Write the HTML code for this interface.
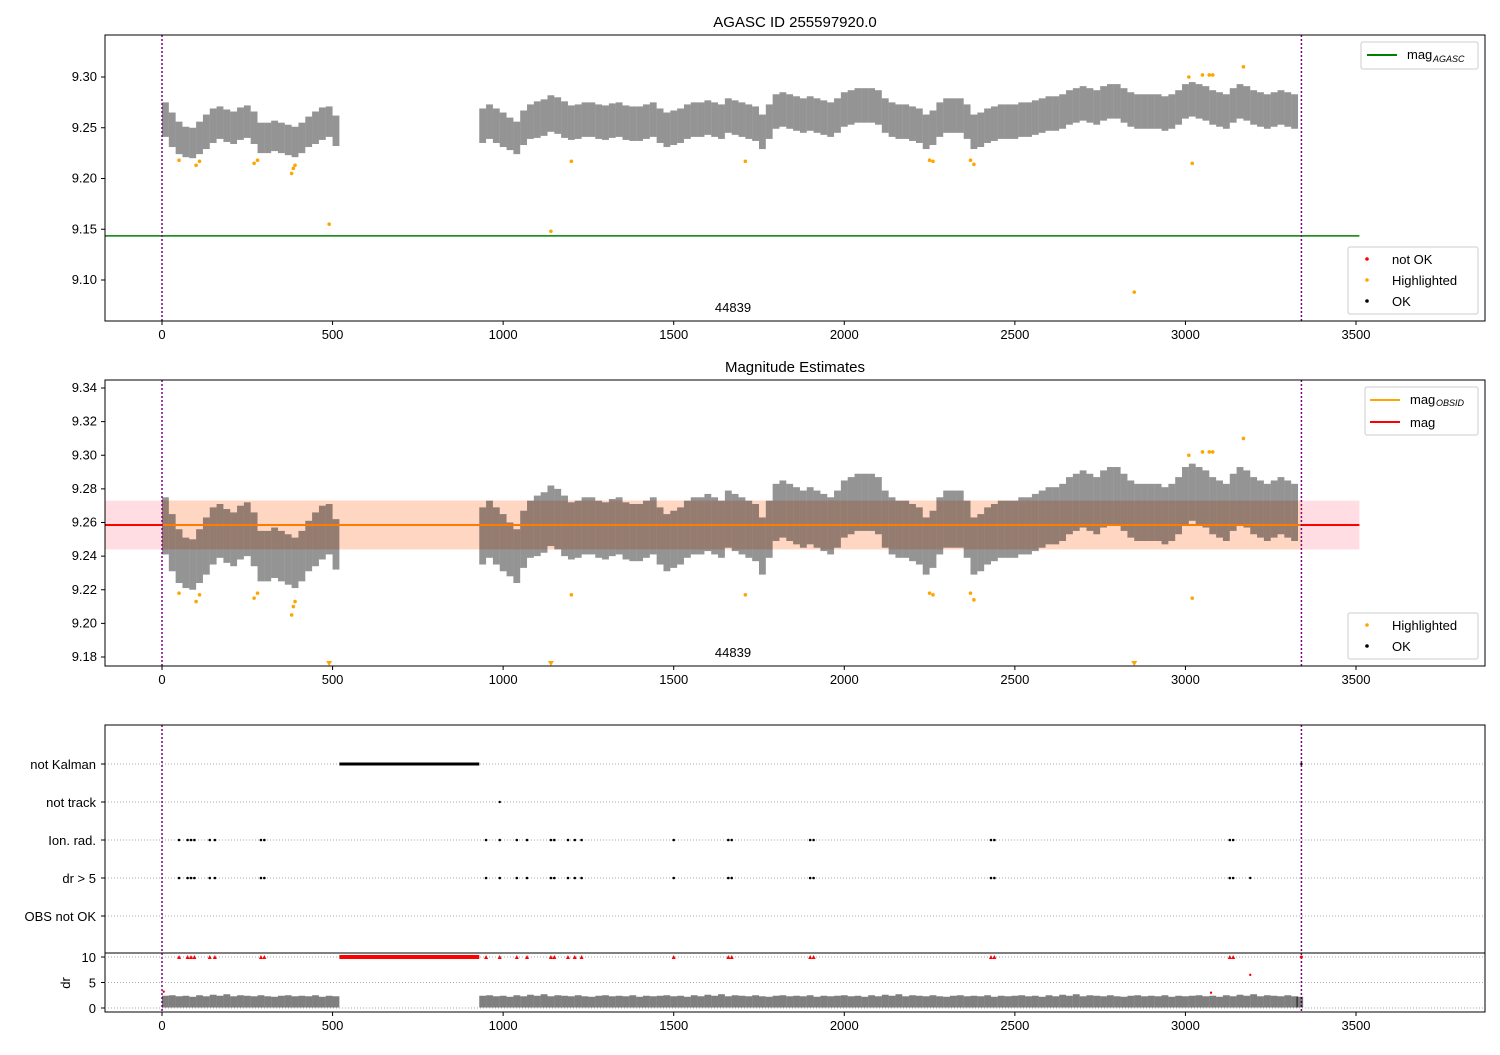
<!DOCTYPE html>
<html><head><meta charset="utf-8"><style>
body{margin:0;background:#fff}
svg{font-family:"Liberation Sans","DejaVu Sans",sans-serif}
</style></head><body>
<svg id="s" width="1500" height="1050" xmlns="http://www.w3.org/2000/svg"></svg>
<script>
// ---- data ----
const binX=[10,30,50,70,90,110,130,150,170,190,210,230,250,270,290,310,330,350,370,390,410,430,450,470,490,510,
 940,960,980,1000,1020,1040,1060,1080,1100,1120,1140,1160,1180,1200,1220,1240,1260,1280,1300,1320,1340,1360,1380,1400,1420,1440,1460,1480,1500,1520,1540,1560,1580,1600,1620,1640,1660,1680,1700,1720,1740,1760,1780,1800,1820,1840,1860,1880,1900,1920,1940,1960,1980,2000,2020,2040,2060,2080,2100,2120,2140,2160,2180,2200,2220,2240,2260,2280,2300,2320,2340,2360,2380,2400,2420,2440,2460,2480,2500,2520,2540,2560,2580,2600,2620,2640,2660,2680,2700,2720,2740,2760,2780,2800,2820,2840,2860,2880,2900,2920,2940,2960,2980,3000,3020,3040,3060,3080,3100,3120,3140,3160,3180,3200,3220,3240,3260,3280,3300,3320,3335];
const binMag=[9.258,9.248,9.240,9.236,9.235,9.240,9.246,9.252,9.255,9.252,9.250,9.254,9.256,9.250,9.240,9.240,9.242,9.240,9.238,9.236,9.240,9.246,9.250,9.254,9.256,9.247,
 9.252,9.256,9.252,9.248,9.244,9.240,9.250,9.256,9.258,9.260,9.264,9.262,9.258,9.255,9.256,9.258,9.258,9.256,9.255,9.257,9.258,9.255,9.254,9.254,9.256,9.258,9.252,9.248,9.250,9.252,9.256,9.258,9.258,9.260,9.258,9.256,9.262,9.260,9.258,9.256,9.254,9.246,9.256,9.266,9.268,9.266,9.264,9.262,9.264,9.262,9.260,9.258,9.262,9.268,9.270,9.272,9.272,9.272,9.270,9.262,9.258,9.256,9.256,9.254,9.252,9.246,9.250,9.258,9.262,9.262,9.262,9.256,9.246,9.248,9.252,9.254,9.256,9.256,9.256,9.258,9.258,9.260,9.262,9.264,9.264,9.266,9.270,9.272,9.274,9.272,9.270,9.274,9.276,9.276,9.272,9.268,9.266,9.266,9.266,9.266,9.264,9.266,9.270,9.276,9.278,9.276,9.274,9.270,9.268,9.266,9.272,9.276,9.274,9.270,9.268,9.266,9.268,9.270,9.268,9.266];
const binSpread=[0.017,0.017,0.016,0.015,0.015,0.016,0.017,0.017,0.016,0.016,0.016,0.016,0.016,0.016,0.015,0.015,0.015,0.015,0.015,0.015,0.015,0.015,0.016,0.016,0.015,0.015,
 0.017,0.017,0.017,0.017,0.016,0.016,0.017,0.017,0.018,0.018,0.018,0.018,0.018,0.017,0.017,0.017,0.017,0.017,0.017,0.017,0.017,0.017,0.017,0.017,0.017,0.017,0.017,0.017,0.017,0.017,0.017,0.017,0.017,0.017,0.017,0.017,0.017,0.017,0.017,0.017,0.017,0.017,0.017,0.017,0.017,0.017,0.017,0.017,0.017,0.017,0.017,0.017,0.017,0.017,0.017,0.017,0.017,0.017,0.017,0.017,0.017,0.017,0.017,0.017,0.017,0.017,0.017,0.017,0.017,0.017,0.017,0.017,0.017,0.017,0.017,0.017,0.017,0.017,0.017,0.017,0.017,0.017,0.017,0.017,0.017,0.017,0.017,0.017,0.017,0.017,0.017,0.017,0.017,0.017,0.017,0.017,0.017,0.017,0.017,0.017,0.017,0.017,0.017,0.017,0.017,0.017,0.017,0.017,0.017,0.017,0.017,0.017,0.017,0.017,0.017,0.017,0.017,0.017,0.017,0.017];
const hiX=[50,100,110,270,280,380,385,390,490,1140,1200,1710,2250,2260,2370,2380,2850,3010,3020,3050,3070,3080,3170];
const hiMag=[9.218,9.213,9.217,9.215,9.218,9.205,9.210,9.213,9.155,9.148,9.217,9.217,9.218,9.217,9.218,9.214,9.088,9.300,9.215,9.302,9.302,9.302,9.310];
const flagX=[50,75,85,95,140,155,290,300,950,990,1040,1070,1140,1150,1190,1210,1230,1500,1660,1670,1900,1910,2430,2440,3130,3140];
const kalmanStart=520, kalmanEnd=930, notTrackX=[990];
const drBinVal=[1.3,1.4,1.2,1.3,1.1,1.4,1.2,1.5,1.3,1.6,1.2,1.4,1.3,1.2,1.4,1.2,1.1,1.3,1.4,1.2,1.3,1.2,1.4,1.1,1.3,1.2];
const drRedX=[3075,3190,5]; const drRedV=[3.0,6.5,3.2];
const magAgasc=9.1435, magObs=9.2585, magLo=9.244, magHi=9.273, obsStart=0, obsEnd=3340;
const xTicks=[0,500,1000,1500,2000,2500,3000,3500];
const y1Ticks=[9.10,9.15,9.20,9.25,9.30];
const y2Ticks=[9.18,9.20,9.22,9.24,9.26,9.28,9.30,9.32,9.34];
const cats=["not Kalman","not track","Ion. rad.","dr > 5","OBS not OK"];
const drTicks=[0,5,10];
// ---- helpers ----
const S=document.getElementById('s'),NS='http://www.w3.org/2000/svg';
function el(t,a,p){const e=document.createElementNS(NS,t);for(const k in a)e.setAttribute(k,a[k]);(p||S).appendChild(e);return e;}
const L=105,R=1485;
const X=v=>162+v*(1194/3500);
function lin(d0,d1,p0,p1){return v=>p0+(v-d0)*(p1-p0)/(d1-d0);}
const Y1=lin(9.10,9.30,280,77), Y2=lin(9.18,9.34,657,388), YD=lin(0,10,1008,957);
function txt(x,y,s,a,name){const t=el('text',Object.assign({x:x,y:y,'font-size':13,fill:'#000'},a||{}));t.textContent=s;return t;}
function xAxis(top,bot,lab){xTicks.forEach(v=>{el('line',{x1:X(v),x2:X(v),y1:bot,y2:bot+4,stroke:'#000'});if(lab)txt(X(v),bot+18,v,{'text-anchor':'middle'},'x-tick-label');});}
function frame(top,bot,name){const r=el('rect',{x:L,y:top,width:R-L,height:bot-top,fill:'none',stroke:'#000','stroke-width':1});}
function vlines(top,bot){[obsStart,obsEnd].forEach(v=>el('line',{x1:X(v),x2:X(v),y1:top,y2:bot,stroke:'#800080','stroke-width':1.5,'stroke-dasharray':'2,2'}));}
function band(Y,g){binX.forEach((bx,i)=>{const r=el('rect',{x:X(bx-10),width:20*1194/3500,y:Y(binMag[i]+binSpread[i]),height:Y(binMag[i]-binSpread[i])-Y(binMag[i]+binSpread[i]),fill:'#000','fill-opacity':0.42},g);});}
// ---- panel 1 ----
txt(795,27,'AGASC ID 255597920.0',{'text-anchor':'middle','font-size':15},'title');
let g1=el('g',{});
el('line',{x1:L,x2:X(3510),y1:Y1(magAgasc),y2:Y1(magAgasc),stroke:'green','stroke-width':1.5},g1);
band(Y1,g1);
hiX.forEach((x,i)=>{const c=el('circle',{cx:X(x),cy:Y1(hiMag[i]),r:1.8,fill:'orange'},g1);});
vlines(35,321);frame(35,321,'axes-agasc');xAxis(35,321,true);
y1Ticks.forEach(v=>{el('line',{x1:L-4,x2:L,y1:Y1(v),y2:Y1(v),stroke:'#000'});txt(L-8,Y1(v)+4,v.toFixed(2),{'text-anchor':'end'},'y-tick-label');});
txt(733,312,'44839',{'text-anchor':'middle'},'obsid-label');
let lg=el('rect',{x:1361,y:42,width:117,height:27,fill:'#fff',stroke:'#ccc',rx:2});
el('line',{x1:1367,x2:1397,y1:55,y2:55,stroke:'green','stroke-width':2});txt(1407,59,'mag',{},'legend-entry');txt(1433,62,'AGASC',{'font-size':9,'font-style':'italic'},'legend-entry');
lg=el('rect',{x:1348,y:247,width:130,height:67,fill:'#fff',stroke:'#ccc',rx:2});
[['not OK','red',259],['Highlighted','orange',280],['OK','#000',301]].forEach(a=>{el('circle',{cx:1367,cy:a[2],r:1.8,fill:a[1]});txt(1392,a[2]+5,a[0],{},'legend-entry');});
// ---- panel 2 ----
txt(795,372,'Magnitude Estimates',{'text-anchor':'middle','font-size':15},'title-estimates');
let g2=el('g',{});
el('rect',{x:L,y:Y2(magHi),width:X(3510)-L,height:Y2(magLo)-Y2(magHi),fill:'#ffdde2'},g2);
el('rect',{x:X(obsStart),y:Y2(magHi),width:X(obsEnd)-X(obsStart),height:Y2(magLo)-Y2(magHi),fill:'#ffd6c2'},g2);
band(Y2,g2);
el('line',{x1:L,x2:X(3510),y1:Y2(magObs),y2:Y2(magObs),stroke:'red','stroke-width':2},g2);
el('line',{x1:X(obsStart),x2:X(obsEnd),y1:Y2(magObs),y2:Y2(magObs),stroke:'orange','stroke-width':1.5},g2);
hiX.forEach((x,i)=>{let c;if(hiMag[i]<9.1746){c=el('path',{d:`M${X(x)-3},661 L${X(x)+3},661 L${X(x)},666 Z`,fill:'orange'},g2);}else c=el('circle',{cx:X(x),cy:Y2(hiMag[i]),r:1.8,fill:'orange'},g2);});
vlines(380,666);frame(380,666,'axes-estimates');xAxis(380,666,true);
y2Ticks.forEach(v=>{el('line',{x1:L-4,x2:L,y1:Y2(v),y2:Y2(v),stroke:'#000'});txt(L-8,Y2(v)+4,v.toFixed(2),{'text-anchor':'end'},'y-tick-label');});
txt(733,657,'44839',{'text-anchor':'middle'},'obsid-label');
lg=el('rect',{x:1365,y:387,width:113,height:48,fill:'#fff',stroke:'#ccc',rx:2});
el('line',{x1:1370,x2:1400,y1:400,y2:400,stroke:'orange','stroke-width':2});txt(1410,404,'mag',{},'legend-entry');txt(1436,406,'OBSID',{'font-size':9,'font-style':'italic'},'legend-entry');
el('line',{x1:1370,x2:1400,y1:422,y2:422,stroke:'red','stroke-width':2});txt(1410,427,'mag',{},'legend-entry');
lg=el('rect',{x:1348,y:613,width:130,height:46,fill:'#fff',stroke:'#ccc',rx:2});
[['Highlighted','orange',625],['OK','#000',646]].forEach(a=>{el('circle',{cx:1367,cy:a[2],r:1.8,fill:a[1]});txt(1392,a[2]+5,a[0],{},'legend-entry');});
// ---- panel 3 flags ----
const catY=i=>764+i*38;
cats.forEach((c,i)=>{el('line',{x1:L,x2:R,y1:catY(i),y2:catY(i),stroke:'#aaa','stroke-dasharray':'1,2'});el('line',{x1:L-4,x2:L,y1:catY(i),y2:catY(i),stroke:'#000'});txt(L-9,catY(i)+5,c,{'text-anchor':'end'},'category-label');});
let k=el('rect',{x:X(kalmanStart),y:catY(0)-1.5,width:X(kalmanEnd)-X(kalmanStart),height:3,fill:'#000'});
el('circle',{cx:X(obsEnd),cy:catY(0),r:1.2,fill:'#000'});
notTrackX.forEach(x=>el('circle',{cx:X(x),cy:catY(1),r:1.2,fill:'#000'}));
flagX.forEach(x=>{[2,3].forEach(j=>{const c=el('circle',{cx:X(x),cy:catY(j),r:1.3,fill:'#000'});});});
el('circle',{cx:X(3190),cy:catY(3),r:1.2,fill:'#000'});
vlines(725,1012);frame(725,953,'axes-flags');frame(953,1012,'axes-dr');
// dr
drTicks.forEach(v=>{el('line',{x1:L,x2:R,y1:YD(v),y2:YD(v),stroke:'#aaa','stroke-dasharray':'1,2'});el('line',{x1:L-4,x2:L,y1:YD(v),y2:YD(v),stroke:'#000'});txt(L-9,YD(v)+5,v,{'text-anchor':'end'},'dr-tick-label');});
txt(70,983,'dr',{'text-anchor':'middle',transform:'rotate(-90 70 983)'},'dr-axis-title');
binX.forEach((bx,i)=>{const v=drBinVal[i%drBinVal.length];const r=el('rect',{x:X(bx-10),width:20*1194/3500,y:YD(v+1.1),height:YD(0.1)-YD(v+1.1),fill:'#000','fill-opacity':0.5});});
flagX.forEach(x=>el('path',{d:`M${X(x)-2},${YD(10)+2} L${X(x)+2},${YD(10)+2} L${X(x)},${YD(10)-2} Z`,fill:'red'}));
let kr=el('rect',{x:X(kalmanStart),y:YD(10)-2,width:X(kalmanEnd)-X(kalmanStart),height:4,fill:'red'});
el('circle',{cx:X(obsEnd),cy:YD(10),r:1.5,fill:'red'});
drRedX.forEach((x,i)=>el('circle',{cx:X(x),cy:YD(drRedV[i]),r:1.2,fill:'red'}));
xAxis(725,1012,true);
</script>
</body></html>
